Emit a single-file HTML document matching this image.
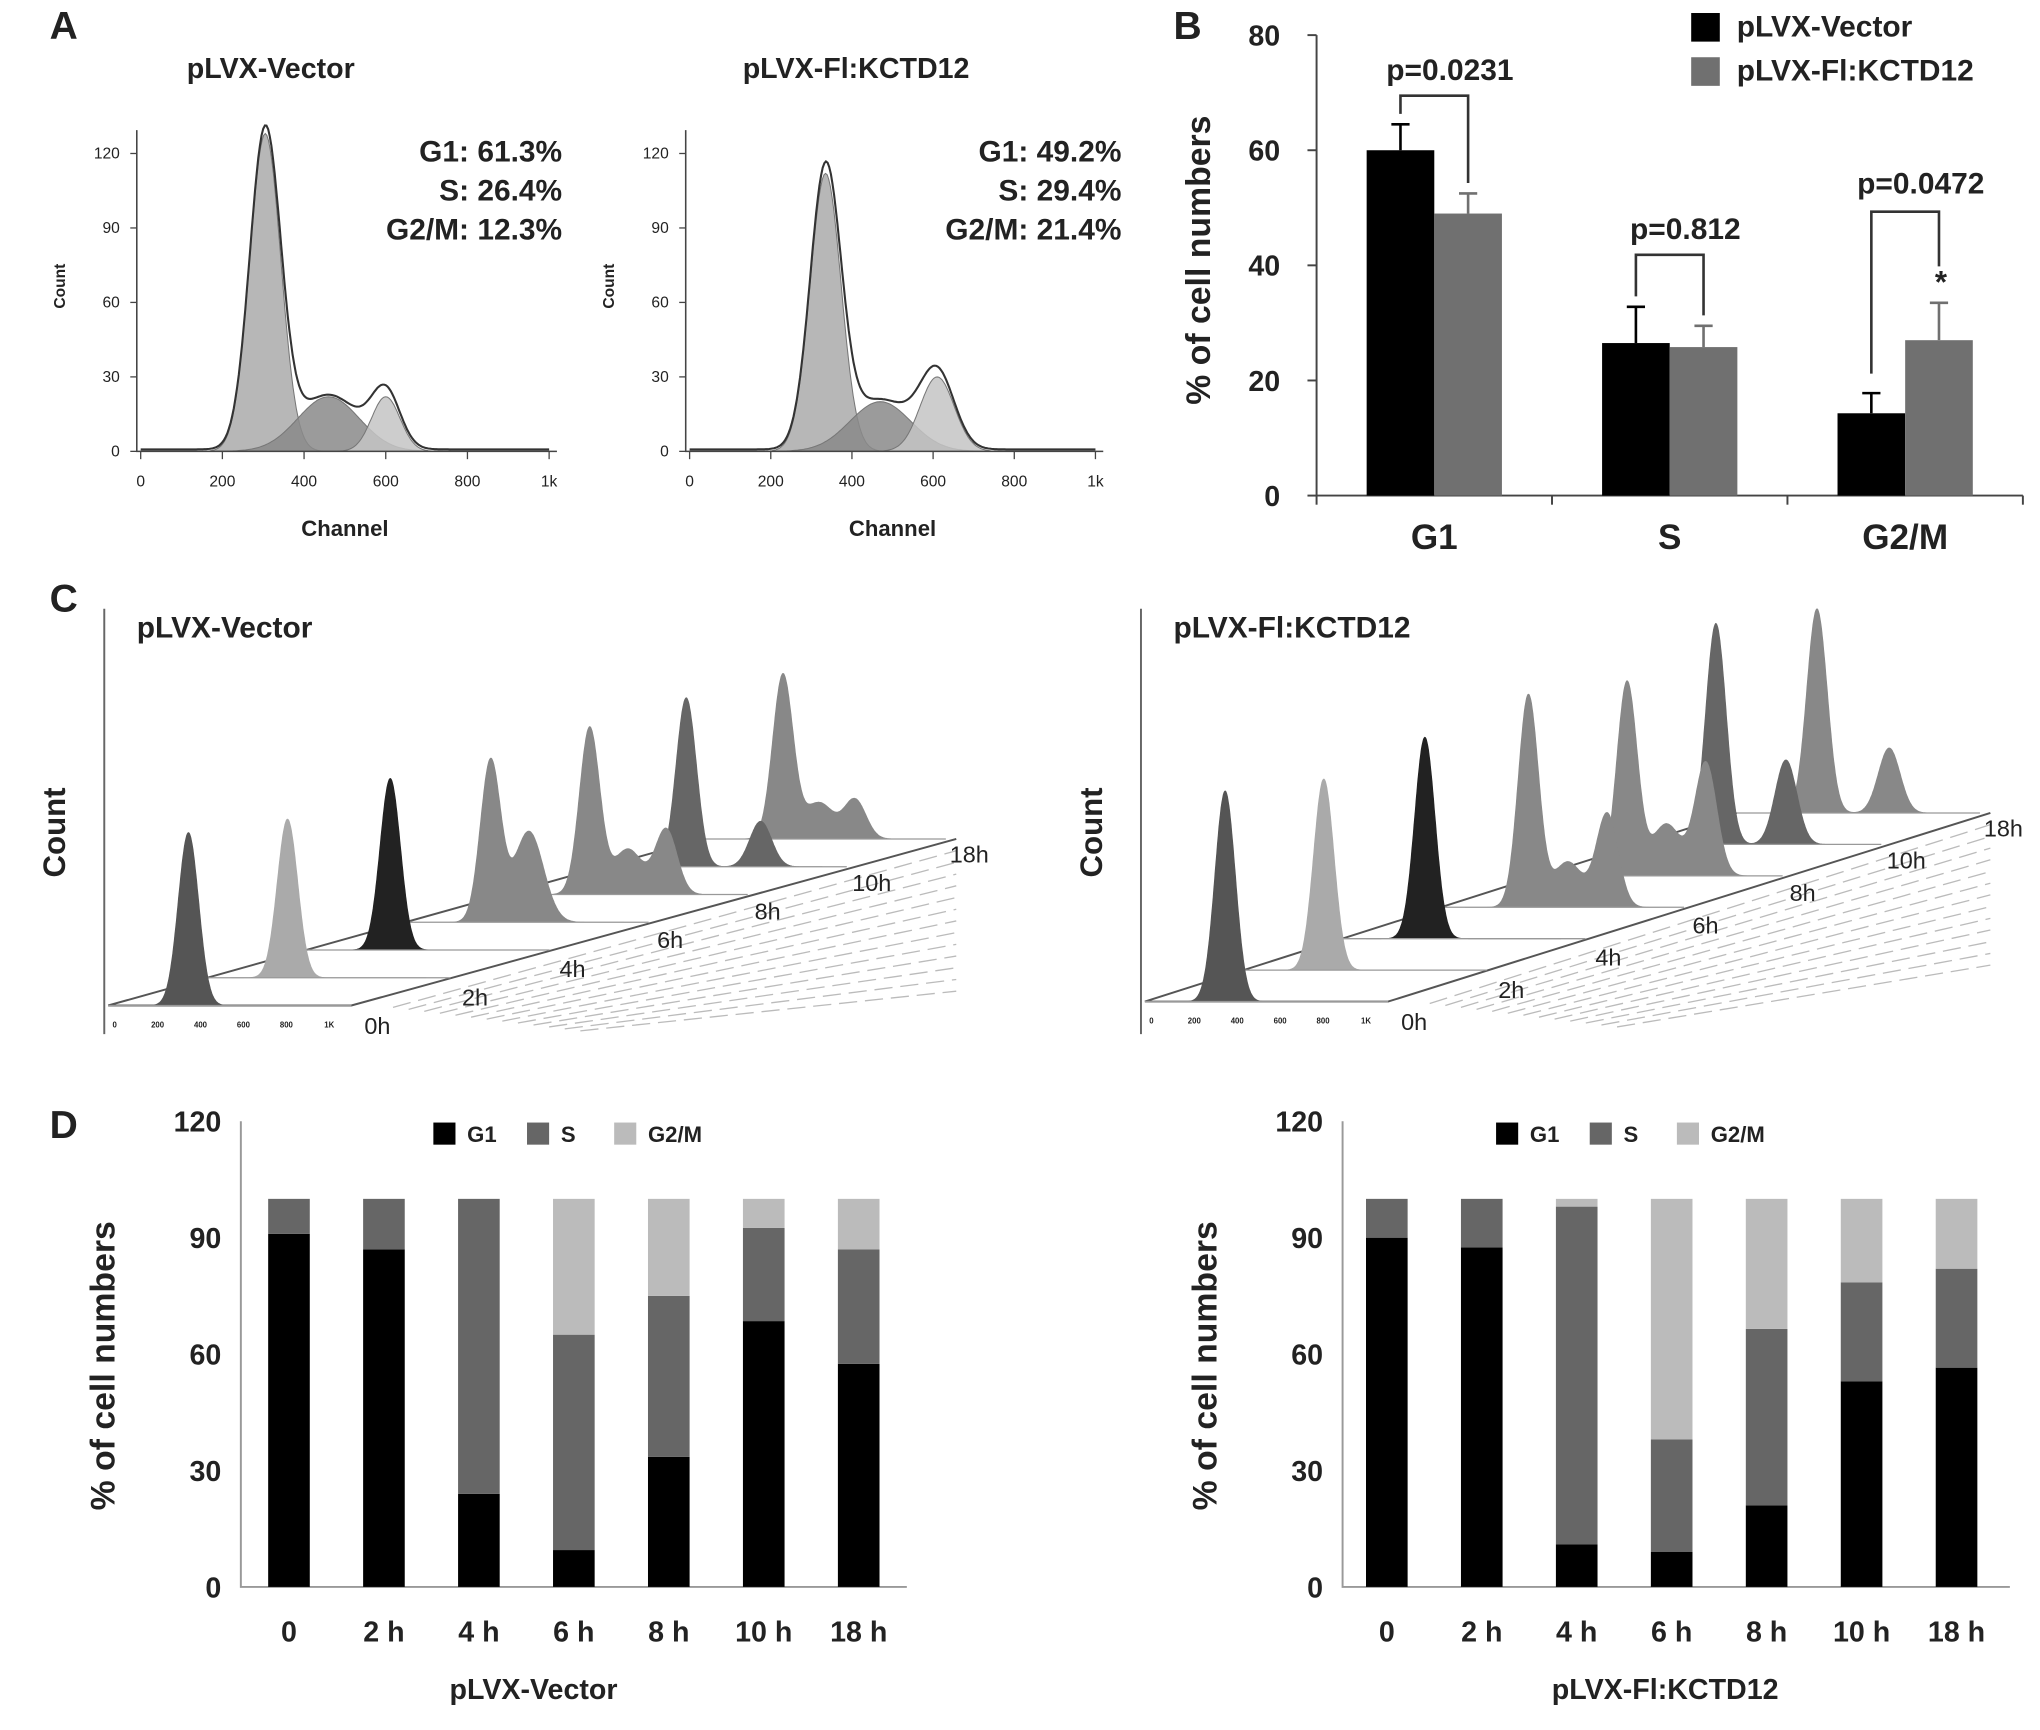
<!DOCTYPE html>
<html><head><meta charset="utf-8"><style>
html,body{margin:0;padding:0;background:#fff}
svg{display:block}
text{font-family:"Liberation Sans",Arial,sans-serif;font-weight:bold;fill:#222}
</style></head><body>
<svg id="fig" width="2040" height="1730" viewBox="0 0 1568 1330" xmlns="http://www.w3.org/2000/svg"></svg>
<script>
// ---------- Panel A data ----------
const aComponentsLeft = [[305,38,128],[460,75,22],[600,35,22]]; // [mean channel, sd, height count]
const aComponentsRight = [[335,38,112],[470,75,20],[610,42,30]];
const aStatsLeft = ["G1:  61.3%","S:  26.4%","G2/M:  12.3%"];
const aStatsRight = ["G1:  49.2%","S:  29.4%","G2/M:  21.4%"];
const aYTicks = [0,30,60,90,120];
const aXTicks = [0,200,400,600,800,1000];
const aXTickLabels = ["0","200","400","600","800","1k"];
// ---------- Panel B data ----------
const bCategories = ["G1","S","G2/M"];
const bVector = [60,26.5,14.3];
const bKCTD = [49,25.8,27];
const bVectorErr = [4.5,6.3,3.5];
const bKCTDErr = [3.5,3.7,6.5];
const bYTicks = [0,20,40,60,80];
const bPValues = ["p=0.0231","p=0.812","p=0.0472"];
// ---------- Panel C data ----------
const cTimes = ["0h","2h","4h","6h","8h","10h","18h"];
const cG1ChanLeft = [330,330,345,350,350,340,330];
const cG1HeightLeft = [133,122,132,124,128,130,126];
const cG2HeightLeft = [0,0,0,0,50,35,30];
const cSHeightLeft = [0,0,0,70,35,0,28];
const cG1ChanRight = [330,330,340,360,360,320,330];
const cG1HeightRight = [162,147,155,163,149,170,157];
const cG2HeightRight = [0,0,0,72,87,65,50];
const cSHeightRight = [0,0,0,35,40,0,0];
const cShadesLeft = ["#555","#aaa","#222","#888","#888","#666","#888"];
const cShadesRight = ["#555","#aaa","#222","#888","#888","#666","#888"];
// ---------- Panel D data ----------
const dCategories = ["0","2 h","4 h","6 h","8 h","10 h","18 h"];
const dG1Left = [91,87,24,9.5,33.5,68.5,57.5];
const dSLeft = [9,13,76,55.5,41.5,24,29.5];
const dG2Left = [0,0,0,35,25,7.5,13];
const dG1Right = [90,87.5,11,9,21,53,56.5];
const dSRight = [10,12.5,87,29,45.5,25.5,25.5];
const dG2Right = [0,0,2,62,33.5,21.5,18];
const dYTicks = [0,30,60,90,120];

const NS="http://www.w3.org/2000/svg";
const svg=document.getElementById('fig');
function mk(tag,attrs,parent){const e=document.createElementNS(NS,tag);for(const k in attrs)e.setAttribute(k,attrs[k]);(parent||svg).appendChild(e);return e;}
function tx(x,y,s,size,anchor,parent,extra){const e=mk('text',Object.assign({x:x,y:y,'font-size':size,'text-anchor':anchor||'start'},extra||{}),parent);e.textContent=s;return e;}
function gauss(x,m,s){return Math.exp(-0.5*((x-m)/s)**2);}

let t;
t=tx(38,30,"A",30);
t=tx(902,30,"B",30);
t=tx(38,470,"C",30);
t=tx(38,875,"D",30);

// ---------- Panel A ----------
function panelA(x0,x1,title,titleX,comps,stats,statX,name){
  const g=mk('g',{});
  
  
  const y0=347, yTop=118;
  const xs=c=>x0+(x1-x0)*c/1000;
  const ys=v=>y0-(y0-yTop)*v/120;
  t=tx(titleX,60,title,22,'middle',g);
  
  
  const fills=['#aaa','#8a8a8a','#c4c4c4'];
  comps.forEach((c,ci)=>{
    let d='M'+xs(c[0]-4*c[1])+','+y0;
    for(let ch=c[0]-4*c[1];ch<=c[0]+4*c[1];ch+=4){d+=' L'+xs(ch).toFixed(1)+','+ys(c[2]*gauss(ch,c[0],c[1])).toFixed(1);}
    d+=' L'+xs(c[0]+4*c[1])+','+y0+'Z';
    const p=mk('path',{d:d,fill:fills[ci],'fill-opacity':0.85,stroke:'#777','stroke-width':0.8},g);
    
    
  });
  let d='';
  for(let ch=0;ch<=1000;ch+=4){let v=0;comps.forEach(c=>v+=c[2]*gauss(ch,c[0],c[1]));d+=(ch?' L':'M')+xs(ch).toFixed(1)+','+ys(v+0.8).toFixed(1);}
  const o=mk('path',{d:d,fill:'none',stroke:'#333','stroke-width':1.6},g);
  
  
  const ax=mk('path',{d:`M${x0-3},100 L${x0-3},${y0} L${x1+6},${y0}`,fill:'none',stroke:'#444','stroke-width':1.2},g);
  
  
  aYTicks.forEach(v=>{mk('line',{x1:x0-8,x2:x0-3,y1:ys(v),y2:ys(v),stroke:'#444'},g);
    t=tx(x0-16,ys(v)+4,String(v),12,'end',g,{style:'font-weight:normal'});
    
    });
  aXTicks.forEach((v,i)=>{mk('line',{x1:xs(v),x2:xs(v),y1:y0,y2:y0+6,stroke:'#444'},g);
    t=tx(xs(v),y0+27,aXTickLabels[i],12,'middle',g,{style:'font-weight:normal'});
    
    });
  t=tx(xs(500),412,"Channel",17,'middle',g);
  
  
  t=tx(0,0,"Count",12,'middle',g,{transform:`translate(${x0-58},220) rotate(-90)`});
  
  
  stats.forEach((s,i)=>{t=tx(statX,124+i*30,s,23,'end',g,{'xml:space':'preserve'});
    
    });
}
panelA(108,422,"pLVX-Vector",208,aComponentsLeft,aStatsLeft,432,'histogram-vector');
panelA(530,842,"pLVX-Fl:KCTD12",658,aComponentsRight,aStatsRight,862,'histogram-kctd12');

// ---------- Panel B ----------
(function(){
  const g=mk('g',{});
  
  
  const y0=381,yTop=27,ax0=1012,ax1=1555;
  const ys=v=>y0-(y0-yTop)*v/80;
  const cw=(ax1-ax0)/3, bw=52;
  const ax=mk('path',{d:`M${ax0},${ys(80)} L${ax0},${y0} L${ax1},${y0}`,fill:'none',stroke:'#444','stroke-width':1.5},g);
  
  
  bYTicks.forEach(v=>{mk('line',{x1:ax0-7,x2:ax0,y1:ys(v),y2:ys(v),stroke:'#444','stroke-width':1.5},g);
    t=tx(ax0-28,ys(v)+8,String(v),22,'end',g);
    
    });
  for(let i=0;i<=3;i++)mk('line',{x1:ax0+i*cw,x2:ax0+i*cw,y1:y0,y2:y0+7,stroke:'#444','stroke-width':1.5},g);
  t=tx(0,0,"% of cell numbers",26,'middle',g,{transform:`translate(930,200) rotate(-90)`});
  
  
  bCategories.forEach((c,i)=>{
    const cx=ax0+cw*(i+0.5);
    [[bVector,bVectorErr,'#000',-bw],[bKCTD,bKCTDErr,'#707070',0]].forEach(s=>{
      const v=s[0][i], e=s[1][i];
      const r=mk('rect',{x:cx+s[3],y:ys(v),width:bw,height:y0-ys(v),fill:s[2]},g);
      
      
      const bx=cx+s[3]+bw/2;
      const eb=mk('path',{d:`M${bx},${ys(v)} L${bx},${ys(v+e)} M${bx-7},${ys(v+e)} L${bx+7},${ys(v+e)}`,stroke:s[2],'stroke-width':2,fill:'none'},g);
      
      
    });
    t=tx(cx,422,c,27,'middle',g);
    
    
    const lx=cx-bw/2, rx=cx+bw/2;
    const ltop=ys(bVector[i]+bVectorErr[i]), rtop=ys(bKCTD[i]+bKCTDErr[i]);
    const top=Math.min(ltop,rtop)-(i==2?70:(i==0?22:40));
    const br=mk('path',{d:`M${lx},${ltop-(i==2?15:8)} L${lx},${top} L${rx},${top} L${rx},${rtop-(i==2?28:8)}`,fill:'none',stroke:'#333','stroke-width':2},g);
    
    
    t=tx(cx+12,top-(i==2?14:12),bPValues[i],23,'middle',g);
    
    
  });
  t=tx(1492,225,"*",24,'middle',g);
  
  
  const l1=mk('rect',{x:1300,y:10,width:22,height:22,fill:'#000'},g);
  
  
  t=tx(1335,28,"pLVX-Vector",23,'start',g);
  
  
  const l2=mk('rect',{x:1300,y:44,width:22,height:22,fill:'#707070'},g);
  
  
  t=tx(1335,62,"pLVX-Fl:KCTD12",23,'start',g);
  
  
})();

// ---------- Panel C ----------
function panelC(ox,baseY,endX,endY,title,g1c,g1h,g2h,sh,shades,name){
  const g=mk('g',{});
  
  
  const frontX0=ox+3, frontX1=ox+190;
  const dx=(endX-frontX1-8)/6, dy=(endY-baseY)/6;
  const vax=mk('line',{x1:ox,x2:ox,y1:468,y2:795,stroke:'#666','stroke-width':1.5},g);
  
  
  t=tx(0,0,"Count",24,'middle',g,{transform:`translate(${ox-30},640) rotate(-90)`});
  
  
  t=tx(ox+25,490,title,23,'start',g);
  
  
  for(let k=1;k<14;k++){
    const ln=mk('line',{x1:frontX1+20+k*12,y1:baseY+k*1.5,x2:endX,y2:endY+k*9,stroke:'#bbb','stroke-width':1,'stroke-dasharray':'14 6'},g);
    
    
  }
  const fl=mk('path',{d:`M${frontX0},${baseY} L${frontX1},${baseY} L${endX},${endY} M${frontX0},${baseY} L${frontX0+dx*6},${baseY+dy*6}`,fill:'none',stroke:'#555','stroke-width':1.5},g);
  
  
  ["0","200","400","600","800","1K"].forEach((s,i)=>{t=tx(frontX0+5+i*33,baseY+17,s,6,'middle',g);
    
    });
  for(let i=cTimes.length-1;i>=0;i--){
    const bx=frontX0+i*dx, by=baseY+i*dy;
    const xs=c=>bx+c*(frontX1-frontX0)/1000;
    let d='M'+xs(100).toFixed(1)+','+by;
    for(let c=100;c<=900;c+=3){
      const v=g1h[i]*gauss(c,g1c[i],42)+g2h[i]*gauss(c,g1c[i]*1.9,45)+sh[i]*gauss(c,g1c[i]*1.45,60);
      d+=' L'+xs(c).toFixed(1)+','+(by-v).toFixed(1);
    }
    d+=' L'+xs(900).toFixed(1)+','+by+'Z';
    const p=mk('path',{d:d,fill:shades[i],stroke:shades[i],'stroke-width':0.5},g);
    
    
    mk('line',{x1:bx,y1:by,x2:bx+(frontX1-frontX0),y2:by,stroke:'#999','stroke-width':1},g);
    t=tx(frontX1+10+i*(endX-frontX1-15)/6,baseY+22+i*(endY-baseY-4)/6,cTimes[i],18,'start',g,{style:'font-weight:normal'});
    
    
  }
}
panelC(80,773,735,645,"pLVX-Vector",cG1ChanLeft,cG1HeightLeft,cG2HeightLeft,cSHeightLeft,cShadesLeft,'stacked-histograms-vector');
panelC(877,770,1530,625,"pLVX-Fl:KCTD12",cG1ChanRight,cG1HeightRight,cG2HeightRight,cSHeightRight,cShadesRight,'stacked-histograms-kctd12');

// ---------- Panel D ----------
function panelD(ax0,ax1,centers0,g1,s,g2,title,titleX,legX,name,labX){
  const g=mk('g',{});
  
  
  const y0=1220,yTop=862;
  const ys=v=>y0-(y0-yTop)*v/120;
  const ax=mk('path',{d:`M${ax0},${yTop} L${ax0},${y0} L${ax1},${y0}`,fill:'none',stroke:'#999','stroke-width':1.5},g);
  
  
  dYTicks.forEach(v=>{t=tx(ax0-15,ys(v)+8,String(v),22,'end',g);
    
    });
  t=tx(0,0,"% of cell numbers",26,'middle',g,{transform:`translate(${labX},1050) rotate(-90)`});
  
  
  dCategories.forEach((c,i)=>{
    const cx=centers0+i*73;
    const w=32;
    let acc=0;
    [[g1,'#000','g1'],[s,'#666','s'],[g2,'#bbb','g2m']].forEach(ser=>{
      const v=ser[0][i];
      if(v>0){const r=mk('rect',{x:cx-w/2,y:ys(acc+v),width:w,height:ys(acc)-ys(acc+v),fill:ser[1]},g);
        
        }
      acc+=v;
    });
    t=tx(cx,1262,c,22,'middle',g);
    
    
  });
  t=tx(titleX,1306,title,22,'middle',g);
  
  
  [["G1","#000",0],["S","#666",72],["G2/M","#bbb",139]].forEach(l=>{
    const r=mk('rect',{x:legX+l[2],y:863,width:17,height:17,fill:l[1]},g);
    
    
    t=tx(legX+l[2]+26,878,l[0],17,'start',g);
    
    
  });
}
panelD(185,697,222,dG1Left,dSLeft,dG2Left,"pLVX-Vector",410,333,'stacked-bar-vector',88);
panelD(1032,1545,1066,dG1Right,dSRight,dG2Right,"pLVX-Fl:KCTD12",1280,1150,'stacked-bar-kctd12',935);
</script>
</body></html>
